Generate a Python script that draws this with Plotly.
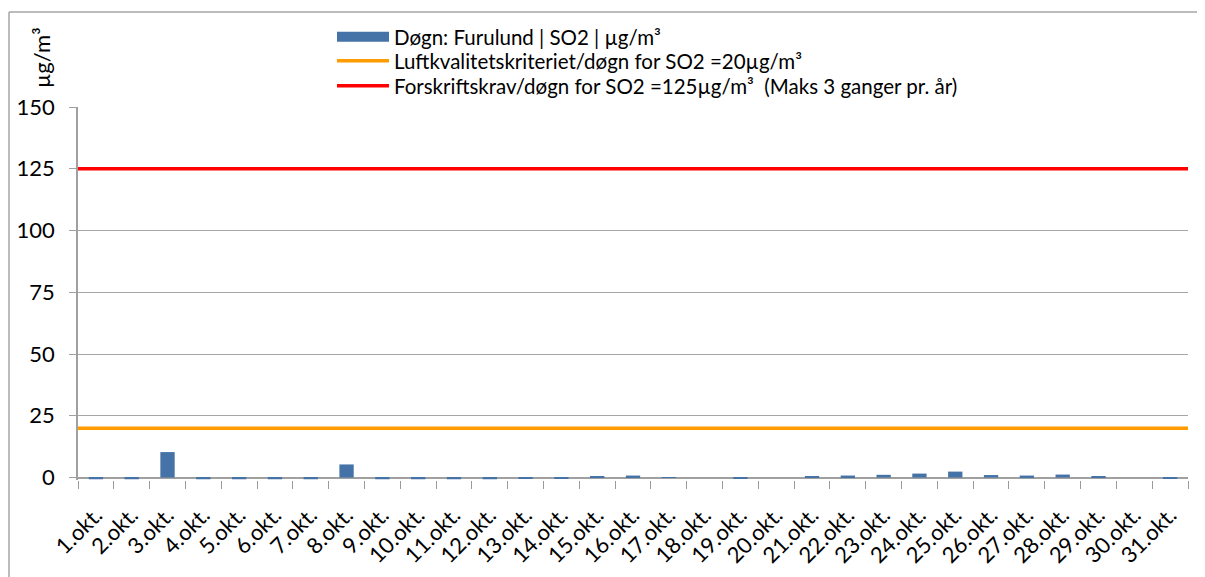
import plotly.graph_objects as go

days = [f"{d}.okt." for d in range(1, 32)]
so2_values = [-0.7, -0.7, 10.3, -0.7, -0.7, -0.7, -0.7, 5.3, -0.7, -0.7,
              -0.7, -0.7, -0.6, -0.4, 0.4, 0.8, 0.2, 0.0, -0.5, 0.0,
              0.3, 0.8, 1.1, 1.6, 2.4, 1.0, 0.8, 1.2, 0.5, 0.0, -0.6]
criterion_value = 20
regulation_value = 125
y_ticks = [0, 25, 50, 75, 100, 125, 150]

bar_name = "Døgn: Furulund | SO2 | µg/m³"
crit_name = "Luftkvalitetskriteriet/døgn for SO2 =20µg/m³"
reg_name = "Forskriftskrav/døgn for SO2 =125µg/m³  (Maks 3 ganger pr. år)"

FONT = "Lato, 'Open Sans', sans-serif"
BAR_COLOR = "#4572A7"

fig = go.Figure()
fig.add_trace(go.Bar(x=days, y=so2_values, name=bar_name, showlegend=False,
                     legendgroup="bar",
                     marker=dict(color=BAR_COLOR, line=dict(width=0)),
                     width=0.4))
# legend swatch for the bar series (wide rectangle like the original)
fig.add_trace(go.Scatter(x=[None], y=[None], mode="lines", name=bar_name,
                         legendgroup="bar", legend="legend",
                         line=dict(color=BAR_COLOR, width=10)))
fig.add_trace(go.Scatter(x=[0, 1], y=[criterion_value] * 2, xaxis="x2",
                         mode="lines", name=crit_name, legend="legend2",
                         line=dict(color="#FF9C00", width=3.5)))
fig.add_trace(go.Scatter(x=[0, 1], y=[regulation_value] * 2, xaxis="x2",
                         mode="lines", name=reg_name, legend="legend3",
                         line=dict(color="#FF0000", width=3.5)))

OFF = 8  # page body margin
FW, FH = 1197, 569
ml, mr, mt, mb = 70, 17, 99, 97
pw, ph = FW - ml - mr, FH - mt - mb

def px(x):
    return (x - OFF - ml) / pw

def py(y):
    return (FH - mb - (y - OFF)) / ph

def legend_at(row_center):
    return dict(x=px(332), y=py(row_center - 19), xanchor="left", yanchor="top",
                font=dict(size=20.5, family=FONT), bgcolor="rgba(0,0,0,0)",
                itemwidth=52)

fig.update_layout(
    width=FW, height=FH,
    margin=dict(l=ml, r=mr, t=mt, b=mb, pad=0, autoexpand=False),
    paper_bgcolor="white", plot_bgcolor="white",
    font=dict(family=FONT, color="black"),
    showlegend=True,
    legend=legend_at(36),
    legend2=legend_at(60),
    legend3=legend_at(85),
    bargap=0.6,
    xaxis=dict(type="category", tickangle=-45, tickfont=dict(size=22),
               showline=False, ticks="outside", tickson="boundaries",
               ticklen=8, tickcolor="#9A9A9A", showgrid=False, zeroline=False,
               ticklabelstandoff=17,
               range=[-0.5, len(days) - 0.5]),
    xaxis2=dict(overlaying="x", range=[0, 1], visible=False),
    yaxis=dict(range=[-1, 150], tickvals=y_ticks, tickfont=dict(size=22),
               showgrid=True, gridcolor="#A6A6A6", gridwidth=1,
               zeroline=True, zerolinecolor="#A0A0A0", zerolinewidth=1.5,
               showline=True, linecolor="#A0A0A0", linewidth=1.5,
               ticks="outside", ticklen=7, tickcolor="#A0A0A0",
               ticklabelstandoff=10),
)

fig.add_annotation(text="µg/m³", textangle=-90, xref="paper", yref="paper",
                   x=px(42), y=py(58), xanchor="center", yanchor="middle",
                   showarrow=False, font=dict(size=22, family=FONT))

border = "#A6A6A6"
fig.add_shape(type="line", xref="paper", yref="paper",
              x0=px(9), x1=px(1220), y0=py(12), y1=py(12),
              line=dict(color=border, width=1.5))
fig.add_shape(type="line", xref="paper", yref="paper",
              x0=px(9), x1=px(9), y0=py(12), y1=py(600),
              line=dict(color=border, width=1.5))

fig.write_html("out.html")
